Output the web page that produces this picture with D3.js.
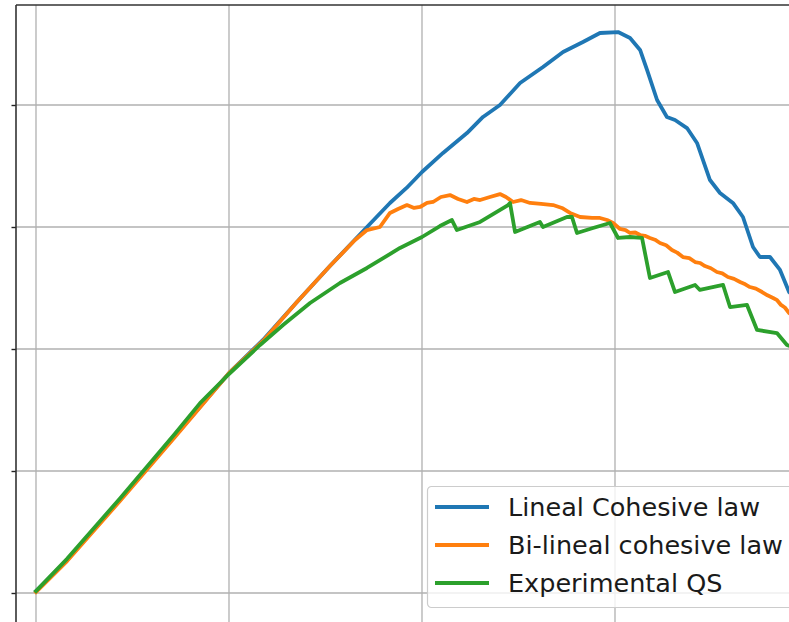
<!DOCTYPE html>
<html>
<head>
<meta charset="utf-8">
<script src="https://cdn.jsdelivr.net/npm/d3@7"></script>
<style>
  html, body { margin: 0; padding: 0; background: #ffffff; }
  svg { display: block; }
</style>
</head>
<body>
<svg id="chart" width="789" height="622"></svg>
<script>
// Tick positions (labels fall outside the visible frame)
const xTicks = [0, 1, 2, 3];
const yTicks = [0, 1, 2, 3, 4];

const seriesNames = ["Lineal Cohesive law", "Bi-lineal cohesive law", "Experimental QS"];
const seriesColors = ["#1f77b4", "#ff7f0e", "#2ca02c"];

// Lineal cohesive law: [displacement, load]
const linealX = [0, 0.161, 0.435, 0.720, 1.005, 1.176, 1.352, 1.523, 1.715, 1.834, 1.920, 2.000, 2.109, 2.233, 2.316, 2.404, 2.508, 2.627, 2.731, 2.834, 2.922, 3.016, 3.078, 3.130, 3.166, 3.218, 3.269, 3.311, 3.373, 3.425, 3.456, 3.492, 3.544, 3.611, 3.663, 3.715, 3.751, 3.803, 3.855, 3.902, 3.95];
const linealY = [0.016, 0.270, 0.762, 1.287, 1.811, 2.074, 2.385, 2.680, 3.000, 3.197, 3.320, 3.451, 3.607, 3.770, 3.902, 4.000, 4.180, 4.311, 4.434, 4.516, 4.590, 4.598, 4.549, 4.451, 4.287, 4.041, 3.902, 3.877, 3.811, 3.689, 3.549, 3.385, 3.279, 3.197, 3.082, 2.836, 2.754, 2.754, 2.648, 2.467, 2.40];

// Bi-lineal cohesive law
const bilinealX = [0, 0.161, 0.435, 0.720, 1.005, 1.176, 1.352, 1.523, 1.653, 1.715, 1.782, 1.834, 1.876, 1.922, 1.959, 1.990, 2.026, 2.057, 2.098, 2.145, 2.187, 2.233, 2.269, 2.301, 2.352, 2.404, 2.435, 2.472, 2.513, 2.560, 2.617, 2.679, 2.725, 2.767, 2.819, 2.881, 2.922, 2.959, 2.990, 3.026, 3.055, 3.078, 3.105, 3.130, 3.155, 3.181, 3.207, 3.233, 3.265, 3.295, 3.322, 3.352, 3.385, 3.415, 3.440, 3.466, 3.497, 3.528, 3.556, 3.585, 3.617, 3.648, 3.675, 3.699, 3.730, 3.762, 3.790, 3.819, 3.840, 3.860, 3.880, 3.902, 3.95];
const bilinealY = [0.008, 0.262, 0.754, 1.279, 1.811, 2.066, 2.385, 2.680, 2.893, 2.975, 3.000, 3.115, 3.148, 3.180, 3.156, 3.164, 3.197, 3.205, 3.246, 3.262, 3.230, 3.205, 3.230, 3.221, 3.246, 3.270, 3.246, 3.205, 3.221, 3.197, 3.189, 3.180, 3.156, 3.115, 3.082, 3.074, 3.074, 3.057, 3.033, 2.984, 2.975, 2.951, 2.955, 2.934, 2.928, 2.910, 2.896, 2.869, 2.850, 2.811, 2.790, 2.754, 2.745, 2.713, 2.705, 2.680, 2.662, 2.631, 2.620, 2.590, 2.575, 2.549, 2.530, 2.508, 2.495, 2.467, 2.440, 2.418, 2.400, 2.361, 2.340, 2.295, 2.25];

// Experimental quasi-static test
const expX = [0, 0.161, 0.435, 0.720, 0.850, 1.000, 1.161, 1.280, 1.420, 1.575, 1.715, 1.886, 2.000, 2.093, 2.155, 2.181, 2.301, 2.446, 2.456, 2.482, 2.611, 2.627, 2.751, 2.777, 2.803, 2.886, 2.974, 3.016, 3.078, 3.140, 3.181, 3.275, 3.311, 3.415, 3.440, 3.560, 3.596, 3.684, 3.736, 3.839, 3.891, 3.95];
const expY = [0.016, 0.280, 0.775, 1.305, 1.556, 1.795, 2.033, 2.197, 2.377, 2.541, 2.664, 2.828, 2.918, 3.008, 3.057, 2.975, 3.041, 3.180, 3.197, 2.959, 3.041, 3.000, 3.082, 3.082, 2.951, 2.992, 3.033, 2.910, 2.918, 2.910, 2.582, 2.631, 2.467, 2.525, 2.484, 2.525, 2.344, 2.361, 2.156, 2.131, 2.033, 2.00];

const series = [
  { name: seriesNames[0], color: seriesColors[0], xs: linealX, ys: linealY },
  { name: seriesNames[1], color: seriesColors[1], xs: bilinealX, ys: bilinealY },
  { name: seriesNames[2], color: seriesColors[2], xs: expX, ys: expY }
];

const svg = d3.select("#chart");
const W = 789, H = 622;
const plot = { left: 16, top: 5, right: 830, bottom: 623 };

const x = d3.scaleLinear().domain([0, 3]).range([36, 615]);
const y = d3.scaleLinear().domain([0, 4]).range([593, 105]);

svg.append("rect").attr("width", W).attr("height", H).attr("fill", "#ffffff");

svg.append("defs").append("clipPath").attr("id", "plotclip")
  .append("rect")
  .attr("x", plot.left).attr("y", plot.top)
  .attr("width", plot.right - plot.left).attr("height", plot.bottom - plot.top);

// Grid
const grid = svg.append("g");
grid.selectAll("line.vx").data(xTicks).join("line")
  .attr("x1", d => x(d)).attr("x2", d => x(d))
  .attr("y1", plot.top).attr("y2", plot.bottom)
  .attr("stroke", "#b0b0b0").attr("stroke-width", 1.3);
grid.selectAll("line.hy").data(yTicks).join("line")
  .attr("y1", d => y(d)).attr("y2", d => y(d))
  .attr("x1", plot.left).attr("x2", plot.right)
  .attr("stroke", "#b0b0b0").attr("stroke-width", 1.3);

// Curves
const line = d3.line().x(d => x(d[0])).y(d => y(d[1]));
const curves = svg.append("g").attr("clip-path", "url(#plotclip)");
series.forEach(s => {
  const pts = s.xs.map((v, i) => [v, s.ys[i]]);
  curves.append("path")
    .datum(pts)
    .attr("d", line)
    .attr("fill", "none")
    .attr("stroke", s.color)
    .attr("stroke-width", 3.8)
    .attr("stroke-linejoin", "round")
    .attr("stroke-linecap", "square");
});

// Axes (tick labels sit outside the frame)
svg.append("g")
  .attr("transform", `translate(${plot.left},0)`)
  .call(d3.axisLeft(y).tickValues(yTicks).tickSize(4.5).tickFormat(() => ""))
  .call(g => g.select(".domain").remove())
  .call(g => g.selectAll(".tick line").attr("stroke", "#222").attr("stroke-width", 1.4));

svg.append("g")
  .attr("transform", `translate(0,${plot.bottom})`)
  .call(d3.axisBottom(x).tickValues(xTicks).tickSize(4.5).tickFormat(() => ""))
  .call(g => g.select(".domain").remove());

// Spines
svg.append("line")
  .attr("x1", plot.left).attr("x2", W)
  .attr("y1", plot.top).attr("y2", plot.top)
  .attr("stroke", "#333").attr("stroke-width", 1.6);
svg.append("line")
  .attr("x1", plot.left).attr("x2", plot.left)
  .attr("y1", plot.top).attr("y2", plot.bottom)
  .attr("stroke", "#333").attr("stroke-width", 1.6);

// Legend
const legend = svg.append("g").attr("transform", "translate(427,486)");
legend.append("rect")
  .attr("x", 0.5).attr("y", 0.5)
  .attr("width", 420).attr("height", 121)
  .attr("rx", 4).attr("ry", 4)
  .attr("fill", "#ffffff").attr("fill-opacity", 0.8)
  .attr("stroke", "#cccccc").attr("stroke-width", 1.2);

series.forEach((s, i) => {
  const cy = 21 + i * 38;
  legend.append("line")
    .attr("x1", 8).attr("x2", 62)
    .attr("y1", cy).attr("y2", cy)
    .attr("stroke", s.color).attr("stroke-width", 3.8);
  legend.append("text")
    .attr("x", 81).attr("y", cy + 9)
    .attr("font-family", "DejaVu Sans")
    .attr("font-size", 25.5)
    .attr("fill", "#1a1a1a")
    .text(s.name);
});
</script>
</body>
</html>
